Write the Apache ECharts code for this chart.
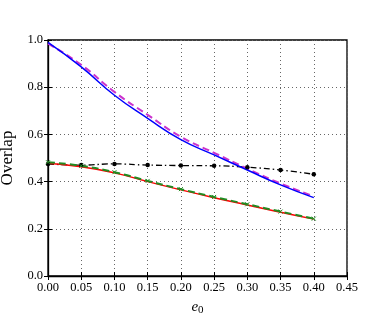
<!DOCTYPE html>
<html><head><meta charset="utf-8">
<script src="https://cdn.jsdelivr.net/npm/echarts@6/dist/echarts.min.js"></script>
<style>html,body{margin:0;padding:0;background:#fff}#c{width:385px;height:316px}</style>
</head><body><div id="c"></div>
<script>
const xValues = [0.00, 0.05, 0.10, 0.15, 0.20, 0.25, 0.30, 0.35, 0.40];
const blueSolid = [0.99, 0.886, 0.766, 0.668, 0.578, 0.513, 0.449, 0.386, 0.332];
const magentaDashed = [0.985, 0.895, 0.78, 0.683, 0.59, 0.522, 0.455, 0.392, 0.338];
const blackDashDot = [0.475, 0.47, 0.475, 0.47, 0.468, 0.467, 0.461, 0.449, 0.431];
const redSolid = [0.478, 0.463, 0.437, 0.400, 0.365, 0.332, 0.301, 0.270, 0.241];
const greenDashed = [0.482, 0.467, 0.440, 0.403, 0.368, 0.335, 0.304, 0.273, 0.243];
const xTicks = [0, 0.05, 0.10, 0.15, 0.20, 0.25, 0.30, 0.35, 0.40, 0.45];
const yTicks = [0.0, 0.2, 0.4, 0.6, 0.8, 1.0];

const pairs = arr => xValues.map((x, i) => [x, arr[i]]);
const serif = '"Liberation Serif","DejaVu Serif",serif';
const chart = echarts.init(document.getElementById('c'));
const tickStyle = {show: true, inside: true, length: 4, lineStyle: {color: '#000', width: 1}};
chart.setOption({
  animation: false,
  grid: {left: 48, right: 38, top: 40, bottom: 40, containLabel: false, outerBoundsMode: 'none',
         show: true, borderColor: '#000', borderWidth: 1.3},
  xAxis: [{
    type: 'value', min: 0, max: 0.45, interval: 0.05,
    name: '{i|e}{s|0}', nameLocation: 'middle', nameGap: 22,
    nameTextStyle: {rich: {i: {fontFamily: serif, fontStyle: 'italic', fontSize: 15, color: '#000'}, s: {fontFamily: serif, fontSize: 11, color: '#000', verticalAlign: 'bottom', padding: [7, 0, 0, 0]}}},
    axisLine: {show: true, lineStyle: {color: '#000', width: 1.3}},
    axisTick: tickStyle,
    axisLabel: {fontFamily: serif, fontSize: 12.5, color: '#000', margin: 5, formatter: v => v.toFixed(2)},
    splitLine: {show: true, lineStyle: {color: '#666', type: [1, 3], width: 1}}
  }, {
    type: 'value', position: 'top', min: 0, max: 0.45, interval: 0.05,
    axisLine: {show: false}, axisTick: tickStyle, axisLabel: {show: false}, splitLine: {show: false}
  }],
  yAxis: [{
    type: 'value', min: 0, max: 1, interval: 0.2,
    name: 'Overlap', nameLocation: 'middle', nameGap: 29,
    nameTextStyle: {fontFamily: serif, fontSize: 17, color: '#000'},
    axisLine: {show: true, lineStyle: {color: '#000', width: 1.3}},
    axisTick: tickStyle,
    axisLabel: {fontFamily: serif, fontSize: 12.5, color: '#000', margin: 5, formatter: v => v.toFixed(1)},
    splitLine: {show: true, lineStyle: {color: '#666', type: [1, 3], width: 1}}
  }, {
    type: 'value', position: 'right', min: 0, max: 1, interval: 0.2,
    axisLine: {show: false}, axisTick: tickStyle, axisLabel: {show: false}, splitLine: {show: false}
  }],
  series: [
    {type: 'line', data: pairs(blackDashDot), smooth: true, symbol: 'circle', symbolSize: 4.5,
     itemStyle: {color: '#000'}, lineStyle: {color: '#000', width: 1.3, type: [6, 3, 1.5, 3]}},
    {type: 'line', data: pairs(magentaDashed), smooth: true, showSymbol: false,
     lineStyle: {color: '#cc33cc', width: 2, type: [7, 4]}},
    {type: 'line', data: pairs(blueSolid), smooth: true, showSymbol: false,
     lineStyle: {color: '#0000ff', width: 1.5}},
    {type: 'line', data: pairs(redSolid), smooth: true, showSymbol: false,
     lineStyle: {color: '#ff0000', width: 1.5}},
    {type: 'line', data: pairs(greenDashed), smooth: true, symbol: 'path://M0,0L10,10M10,0L0,10', symbolSize: 4,
     itemStyle: {color: 'none', borderColor: '#228b22', borderWidth: 1},
     lineStyle: {color: '#228b22', width: 2, type: [7, 4]}}
  ]
});
</script></body></html>
